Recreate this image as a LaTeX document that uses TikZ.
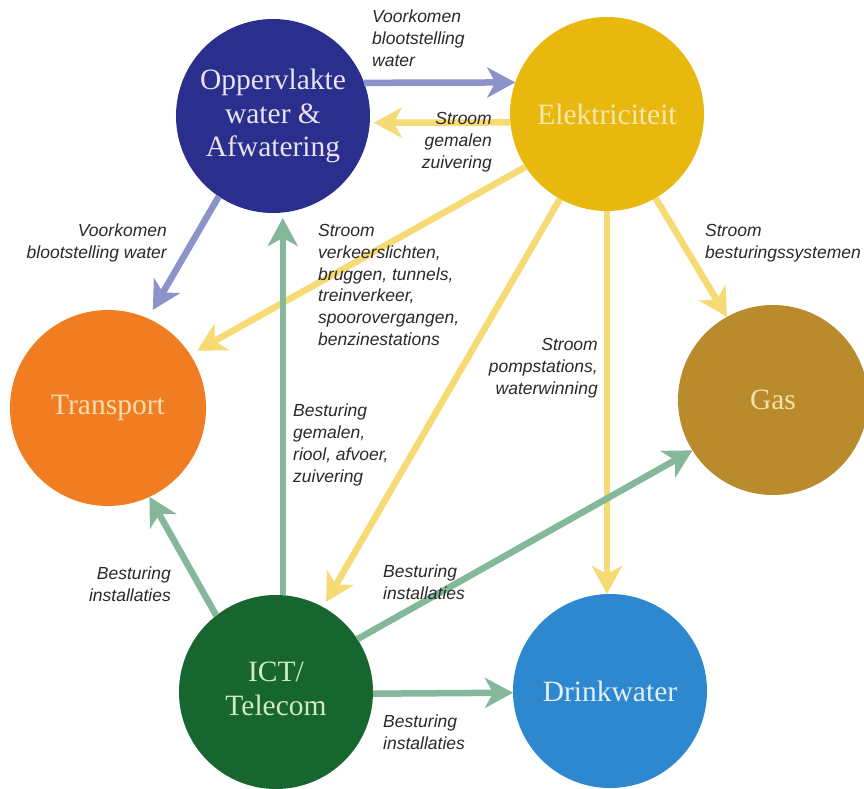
\documentclass[tikz,border=0pt]{standalone}
\usepackage{fontspec}
\setmainfont{Liberation Serif}
\newfontfamily\lblfont{Liberation Sans}
\usetikzlibrary{arrows.meta,calc}
\definecolor{oppc}{HTML}{2A2F8E}
\definecolor{elekc}{HTML}{E9B80F}
\definecolor{transc}{HTML}{F07D21}
\definecolor{gasc}{HTML}{B98B2C}
\definecolor{ictc}{HTML}{17652F}
\definecolor{drinkc}{HTML}{2E88D0}
\definecolor{opptx}{HTML}{E6E4EE}
\definecolor{elektx}{HTML}{F7E7B0}
\definecolor{transtx}{HTML}{FDDDB0}
\definecolor{gastx}{HTML}{F6E2A6}
\definecolor{icttx}{HTML}{CFEAC8}
\definecolor{drinktx}{HTML}{E4EEF8}
\definecolor{bluearr}{HTML}{8C93C9}
\definecolor{yelarr}{HTML}{F6DA73}
\definecolor{greenarr}{HTML}{85B79A}
\definecolor{lbltext}{HTML}{2A2A2A}
\begin{document}
\begin{tikzpicture}[x=1pt,y=-1pt,
  hub/.style={circle,minimum size=194pt,inner sep=0pt,outer sep=0pt,
    font=\fontsize{29.5}{33.5}\selectfont,align=center},
  lbl/.style={font=\lblfont\itshape\fontsize{17.5}{21.8}\selectfont,text=lbltext,inner sep=0pt},
  flow/.style={line width=6.5pt,-{Stealth[length=28pt,width=30pt,inset=8pt]}}]
\useasboundingbox[fill=white] (0,0) rectangle (864,789);

% hubs
\node[hub,fill=oppc,text=opptx] (opp) at (273,116) {Oppervlakte\\water \&\\Afwatering};
\node[hub,fill=elekc,text=elektx] (elek) at (607,114) {Elektriciteit};
\node[hub,minimum size=196pt,fill=transc,text=transtx] (trans) at (108,408) {Transport};
\node[hub,minimum size=190pt,fill=gasc,text=gastx] (gas) at (773,400) {Gas};
\node[hub,fill=ictc,text=icttx] (ict) at (276,692)
  {\raisebox{-6pt}{\begin{tabular}{@{}c@{}}ICT/\\Telecom\end{tabular}}};
\node[hub,fill=drinkc,text=drinktx] (drink) at (610,691) {\raisebox{-7pt}{Drinkwater}};

% connectors
\draw[flow,bluearr] (opp.20) -- (elek.161);
\draw[flow,yelarr,shorten >=4pt] (elek.185) -- (opp.-4);
\draw[flow,bluearr,shorten >=10pt] (opp.-124) -- (trans.66);
\draw[flow,yelarr,shorten >=8pt] (elek.213) -- (trans.33);
\draw[flow,yelarr] (elek.-60) -- (gas.119);
\draw[flow,yelarr] (elek.south) -- (elek.south |- drink.north);
\draw[flow,yelarr,shorten >=6pt] (elek.241) -- (ict.61);
\draw[flow,greenarr,shorten >=5pt] (ict.86) -- (ict.86 |- opp.south);
\draw[flow,greenarr] (ict.128) -- (trans.-65);
\draw[flow,greenarr] (ict.33) -- (gas.212);
\draw[flow,greenarr] (ict.-1) -- (drink.181);

% labels
\node[lbl,anchor=north west,align=left] (l1) at (372,10) {Voorkomen\\blootstelling\\water};
\node[lbl,anchor=north east,align=right] (l2) at (492,112) {Stroom\\gemalen\\zuivering};
\node[lbl,anchor=north east,align=right] (l3) at (167,224) {Voorkomen\\blootstelling water};
\node[lbl,anchor=north west,align=left] (l4) at (318,224) {Stroom\\verkeerslichten,\\bruggen, tunnels,\\treinverkeer,\\spoorovergangen,\\benzinestations};
\node[lbl,anchor=north west,align=left] (l5) at (705,224) {Stroom\\besturingssystemen};
\node[lbl,anchor=north east,align=right] (l6) at (598,338) {Stroom\\pompstations,\\waterwinning};
\node[lbl,anchor=north west,align=left] (l7) at (293,404) {Besturing\\gemalen,\\riool, afvoer,\\zuivering};
\node[lbl,anchor=north east,align=right] (l8) at (171,567) {Besturing\\installaties};
\node[lbl,anchor=north west,align=left] (l9) at (383,565) {Besturing\\installaties};
\node[lbl,anchor=north west,align=left] (l10) at (383,715) {Besturing\\installaties};
\end{tikzpicture}
\end{document}
